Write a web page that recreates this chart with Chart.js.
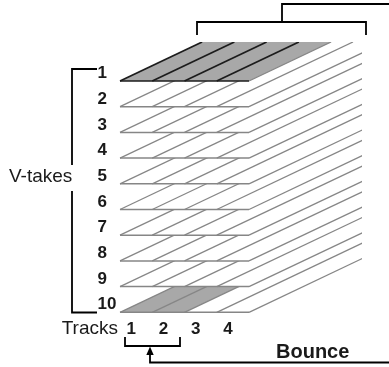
<!DOCTYPE html>
<html><head><meta charset="utf-8">
<script src="https://cdn.jsdelivr.net/npm/chart.js@4/dist/chart.umd.min.js"></script>
<style>html,body{margin:0;padding:0;background:#fff}canvas{display:block}</style>
</head><body>
<canvas id="c" width="389" height="367"></canvas>
<script>
// ---- data ----
const takes = ['1','2','3','4','5','6','7','8','9','10'];
const tracks = ['1','2','3','4'];
const sourceTake = 1;            // V-take shown filled (all tracks)
const sourceTracks = [1,2,3,4];
const bounceTake = 10;           // V-take receiving the bounce
const bounceTracks = [1,2];
const takeAxisTitle = 'V-takes';
const trackAxisTitle = 'Tracks';
const bounceLabel = 'Bounce';

// ---- layout (style) ----
const W = 389, H = 367;
const X0 = 120, TW = 32.25, Y0 = 81, TH = 25.7, SLOPE = 0.475, TOP = 42, RIGHT = 362;
const xMin = -X0 / TW, xMax = (W - X0) / TW;
const yMin = 1 - Y0 / TH, yMax = 1 + (H - Y0) / TH;
const px = p => (p - X0) / TW;
const py = p => 1 + (p - Y0) / TH;
const kTop = py(TOP);
const R = TH / (SLOPE * TW);
const back = (t, k) => ({x: t + (k - kTop) * R, y: kTop});
const front = (t, k) => ({x: t, y: k});

const GRAY_LINE = '#868686', DARK = '#1c1c1c', GRAY_FILL = '#a8a8a8';
const clipLayer = {left: 0, top: -TOP, right: -(W - RIGHT), bottom: 0};

const drawList = []; // bottom -> top
function seg(points, color, width, clip) {
  drawList.push({data: points, borderColor: color, borderWidth: width, pointRadius: 0,
    fill: false, clip: clip === undefined ? clipLayer : clip, tension: 0, borderCapStyle: 'butt', borderJoinStyle: 'miter'});
}
function poly(points, color) {
  drawList.push({data: points.concat([points[0]]), borderColor: 'rgba(0,0,0,0)', borderWidth: 0,
    backgroundColor: color, fill: 'shape', pointRadius: 0, clip: false, tension: 0});
}

const nT = tracks.length;
for (let i = takes.length - 1; i >= 0; i--) {
  const k = i + 1;
  const isSource = k === sourceTake;
  poly([front(0,k), front(nT,k), back(nT,k), back(0,k)], isSource ? GRAY_FILL : '#ffffff');
  if (k === bounceTake) {
    const a = Math.min(...bounceTracks) - 1, b = Math.max(...bounceTracks);
    poly([front(a,k), front(b,k), back(b,k), back(a,k)], GRAY_FILL);
  }
  for (let t = 0; t <= nT; t++) {
    const dark = isSource && t < nT && sourceTracks.includes(t + 1);
    seg([front(t,k), back(t,k)], dark ? DARK : GRAY_LINE, dark ? 1.7 : 1.3);
  }
  seg([front(0,k), front(nT,k)], isSource ? DARK : GRAY_LINE, isSource ? 1.7 : 1.5);
}

// brackets and arrow (annotations, in pixel-derived values)
const P = (x, y) => ({x: px(x), y: py(y)});
const BW = 1.8;
seg([P(97,69), P(72,69), P(72,165)], '#000', BW, false);
seg([P(72,191), P(72,312.5), P(97,312.5)], '#000', BW, false);
seg([P(197,35), P(197,22), P(366,22), P(366,35)], '#000', BW, false);
seg([P(282,22), P(282,4), P(W,4)], '#000', BW, false);
seg([P(125,337), P(125,346), P(180,346), P(180,337)], '#000', BW, false);
seg([P(150,352), P(150,362.5), P(W,362.5)], '#000', BW, false);
poly([P(150,346.5), P(146.3,355), P(153.7,355)], '#000');

const datasets = drawList.slice().reverse();

const labelPlugin = {
  id: 'labels',
  afterDraw(chart) {
    const ctx = chart.ctx, xs = chart.scales.x, ys = chart.scales.y;
    const X = v => xs.getPixelForValue(v), Y = v => ys.getPixelForValue(v);
    ctx.save();
    ctx.fillStyle = '#1a1a1a';
    ctx.textBaseline = 'middle';
    ctx.font = 'bold 17px "Liberation Sans", Arial, sans-serif';
    ctx.textAlign = 'left';
    takes.forEach((lab, i) => ctx.fillText(lab, X(px(97.5)), Y(i + 1 - 7.5 / TH)));
    ctx.textAlign = 'center';
    tracks.forEach((lab, i) => ctx.fillText(lab, X(i + 0.5 - 5 / TW), Y(py(329))));
    ctx.font = '19px "Liberation Sans", Arial, sans-serif';
    ctx.textAlign = 'left';
    ctx.fillText(takeAxisTitle, X(px(9)), Y(py(177)));
    ctx.textAlign = 'right';
    ctx.fillText(trackAxisTitle, X(px(118)), Y(py(329)));
    ctx.font = 'bold 20px "Liberation Sans", Arial, sans-serif';
    ctx.textAlign = 'left';
    ctx.fillText(bounceLabel, X(px(276)), Y(py(352)));
    ctx.restore();
  }
};

new Chart(document.getElementById('c'), {
  type: 'line',
  data: {datasets},
  options: {
    responsive: false, animation: false, devicePixelRatio: 1,
    layout: {padding: 0},
    scales: {
      x: {type: 'linear', min: xMin, max: xMax, display: false},
      y: {type: 'linear', min: yMin, max: yMax, reverse: true, display: false}
    },
    plugins: {legend: {display: false}, tooltip: {enabled: false}, title: {display: false}},
    events: []
  },
  plugins: [labelPlugin]
});
</script>
</body></html>
